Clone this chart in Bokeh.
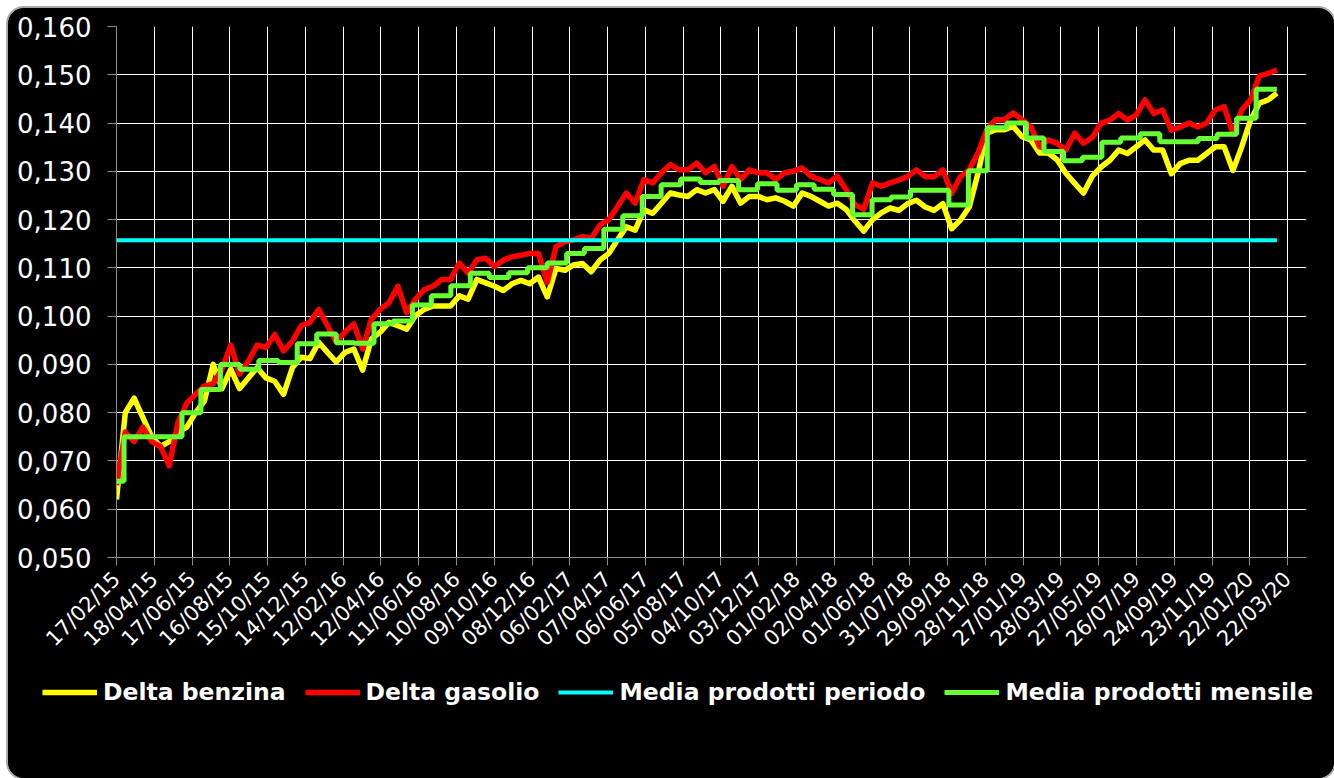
import pandas as pd
from math import pi
from bokeh.plotting import figure
from bokeh.layouts import column
from bokeh.models import (FixedTicker, DatetimeTickFormatter, CustomJSTickFormatter,
                          Legend, LegendItem, Range1d)
from bokeh.embed import file_html
from bokeh.resources import INLINE

# ---------------- data ----------------
start_date = "2015-02-17"
end_date = "2020-03-05"

benzina = [
    0.0620, 0.0800, 0.0830, 0.0790, 0.0750, 0.0730, 0.0740, 0.0760, 0.0770, 0.0800,
    0.0824, 0.0900, 0.0850, 0.0890, 0.0850, 0.0872, 0.0893, 0.0872, 0.0865, 0.0838,
    0.0893, 0.0915, 0.0912, 0.0946, 0.0925, 0.0905, 0.0925, 0.0932, 0.0888, 0.0953,
    0.0967, 0.0987, 0.0980, 0.0973, 0.1001, 0.1014, 0.1021, 0.1021, 0.1021, 0.1042,
    0.1035, 0.1076, 0.1069, 0.1062, 0.1053, 0.1067, 0.1074, 0.1067, 0.1081, 0.1040,
    0.1099, 0.1095, 0.1106, 0.1109, 0.1092, 0.1116, 0.1130, 0.1158, 0.1185, 0.1178,
    0.1220, 0.1213, 0.1234, 0.1255, 0.1251, 0.1248, 0.1262, 0.1255, 0.1262, 0.1238,
    0.1269, 0.1234, 0.1248, 0.1248, 0.1241, 0.1245, 0.1238, 0.1228, 0.1255, 0.1248,
    0.1238, 0.1228, 0.1234, 0.1221, 0.1197, 0.1176, 0.1200, 0.1214, 0.1224, 0.1219,
    0.1233, 0.1240, 0.1226, 0.1219, 0.1233, 0.1181, 0.1199, 0.1226, 0.1296, 0.1379,
    0.1386, 0.1386, 0.1393, 0.1372, 0.1365, 0.1338, 0.1338, 0.1324, 0.1296, 0.1275,
    0.1255, 0.1290, 0.1309, 0.1323, 0.1344, 0.1337, 0.1351, 0.1365, 0.1344, 0.1344,
    0.1295, 0.1316, 0.1323, 0.1323, 0.1337, 0.1351, 0.1351, 0.1302, 0.1351, 0.1406,
    0.1441, 0.1448, 0.1462,
]

gasolio = [
    0.0650, 0.0760, 0.0740, 0.0770, 0.0740, 0.0730, 0.0690, 0.0780, 0.0820, 0.0838,
    0.0855, 0.0860, 0.0890, 0.0940, 0.0880, 0.0907, 0.0940, 0.0935, 0.0962, 0.0928,
    0.0948, 0.0980, 0.0987, 0.1014, 0.0980, 0.0946, 0.0967, 0.0984, 0.0932, 0.0994,
    0.1014, 0.1028, 0.1062, 0.1007, 0.1035, 0.1055, 0.1062, 0.1076, 0.1076, 0.1110,
    0.1089, 0.1117, 0.1120, 0.1103, 0.1116, 0.1123, 0.1126, 0.1130, 0.1130, 0.1070,
    0.1144, 0.1154, 0.1158, 0.1165, 0.1161, 0.1189, 0.1200, 0.1227, 0.1255, 0.1234,
    0.1283, 0.1276, 0.1297, 0.1314, 0.1303, 0.1303, 0.1317, 0.1297, 0.1310, 0.1269,
    0.1310, 0.1283, 0.1303, 0.1297, 0.1297, 0.1283, 0.1297, 0.1300, 0.1307, 0.1290,
    0.1283, 0.1276, 0.1290, 0.1262, 0.1231, 0.1221, 0.1276, 0.1269, 0.1276, 0.1282,
    0.1289, 0.1303, 0.1289, 0.1289, 0.1303, 0.1254, 0.1289, 0.1303, 0.1338, 0.1386,
    0.1407, 0.1407, 0.1421, 0.1407, 0.1393, 0.1351, 0.1365, 0.1358, 0.1344, 0.1379,
    0.1358, 0.1370, 0.1400, 0.1406, 0.1420, 0.1406, 0.1417, 0.1448, 0.1420, 0.1427,
    0.1385, 0.1392, 0.1400, 0.1392, 0.1400, 0.1427, 0.1434, 0.1378, 0.1427, 0.1448,
    0.1497, 0.1503, 0.1510,
]

media_periodo = 0.1157

# monthly averages, Feb 2015 ... Mar 2020
media_mensile = [
    0.0658, 0.0750, 0.0750, 0.0750, 0.0800, 0.0848, 0.0900, 0.0890, 0.0908, 0.0904, 0.0943,
    0.0963, 0.0945, 0.0944, 0.0984, 0.0990, 0.1023, 0.1042, 0.1063, 0.1089, 0.1080, 0.1090, 0.1100,
    0.1110, 0.1130, 0.1140, 0.1180, 0.1208, 0.1248, 0.1272, 0.1284, 0.1277, 0.1281, 0.1262, 0.1274,
    0.1261, 0.1272, 0.1263, 0.1252, 0.1210, 0.1241, 0.1247, 0.1261, 0.1261, 0.1230, 0.1301, 0.1390,
    0.1400, 0.1369, 0.1341, 0.1322, 0.1329, 0.1360, 0.1369, 0.1378, 0.1361, 0.1361, 0.1368, 0.1377,
    0.1410, 0.1470, 0.1470,
]

legend_labels = ["Delta benzina", "Delta gasolio", "Media prodotti periodo", "Media prodotti mensile"]
colors = ["#FFFF00", "#FF0000", "#00FFFF", "#66FF33"]
y_ticks = [0.05, 0.06, 0.07, 0.08, 0.09, 0.10, 0.11, 0.12, 0.13, 0.14, 0.15, 0.16]
x_tick_step_days = 60
x_tick_count = 32
x_end = "2020-04-21"

# ---------------- derived positions ----------------
dates = pd.date_range(start_date, end_date, periods=len(gasolio))
month_starts = [pd.Timestamp(start_date)] + list(pd.date_range("2015-03-01", "2020-03-01", freq="MS"))
step_x = month_starts + [pd.Timestamp(end_date)]
step_y = media_mensile + [media_mensile[-1]]
x_ticks = [(pd.Timestamp(start_date) + pd.Timedelta(days=x_tick_step_days * k)).value // 10**6
           for k in range(x_tick_count)]

W = 1326
H_MAIN = 660
H_LEG = 110

p = figure(width=W, height=H_MAIN, x_axis_type="datetime",
           output_backend="svg", toolbar_location=None,
           x_range=Range1d(pd.Timestamp(start_date), pd.Timestamp(x_end)),
           y_range=Range1d(0.05, 0.16),
           background_fill_color="black", border_fill_color="black",
           min_border_left=108, min_border_right=28, min_border_top=18,
           min_border_bottom=H_MAIN - 549)
p.outline_line_color = None

widths = [5.5, 5.5, 4, 5]
p.line(dates, benzina, line_color=colors[0], line_width=widths[0], line_join="round")
p.line(dates, gasolio, line_color=colors[1], line_width=widths[1], line_join="round")
p.line([pd.Timestamp(start_date), pd.Timestamp(end_date)], [media_periodo, media_periodo],
       line_color=colors[2], line_width=widths[2])
p.step(step_x, step_y, mode="after", line_color=colors[3], line_width=widths[3])

xt = FixedTicker(ticks=x_ticks)
p.xaxis.ticker = xt
p.xgrid.ticker = xt
fmt = "%d/%m/%y"
p.xaxis.formatter = DatetimeTickFormatter(microseconds=fmt, milliseconds=fmt, seconds=fmt, minsec=fmt,
                                          minutes=fmt, hourmin=fmt, hours=fmt, days=fmt,
                                          months=fmt, years=fmt)
p.xaxis.major_label_orientation = pi / 4
yt = FixedTicker(ticks=y_ticks)
p.yaxis.ticker = yt
p.ygrid.ticker = yt
p.yaxis.formatter = CustomJSTickFormatter(code="return tick.toFixed(3).replace('.', ',');")

for ax in (p.xaxis, p.yaxis):
    ax.axis_line_color = "#8c8c8c"
    ax.major_tick_line_color = "#8c8c8c"
    ax.minor_tick_line_color = None
    ax.major_tick_in = 0
    ax.major_label_text_color = "white"
    ax.major_label_text_font = "DejaVu Sans"
p.yaxis.major_tick_out = 9
p.xaxis.major_tick_out = 8
p.yaxis.major_label_text_font_size = "26px"
p.xaxis.major_label_text_font_size = "21px"
p.yaxis.major_label_standoff = 16
p.xaxis.major_label_standoff = 10

for g in (p.xgrid, p.ygrid):
    g.grid_line_color = "white"
    g.grid_line_width = 1
    g.grid_line_alpha = 1

# ---------------- legend strip ----------------
pl = figure(width=W, height=H_LEG, output_backend="svg", toolbar_location=None,
            x_axis_location=None, y_axis_location=None,
            x_range=Range1d(0, 1), y_range=Range1d(0, 1),
            background_fill_color="black", border_fill_color="black",
            min_border_left=0, min_border_right=0, min_border_top=0, min_border_bottom=0)
pl.outline_line_color = None
pl.xgrid.visible = False
pl.ygrid.visible = False
for fig in (p, pl):
    if "frame_align" in fig.properties():
        fig.frame_align = False

items = []
for lab, c, w in zip(legend_labels, colors, widths):
    r = pl.line([-10, -9], [-10, -9], line_color=c, line_width=w)
    items.append(LegendItem(label=lab, renderers=[r]))
legend = Legend(items=items, orientation="horizontal", location=(34, 72),
                label_text_color="white", label_text_font="DejaVu Sans",
                label_text_font_style="bold", label_text_font_size="23.5px",
                glyph_width=55, glyph_height=20, spacing=19, label_standoff=6,
                padding=0, margin=0, background_fill_alpha=0, border_line_color=None)
pl.add_layout(legend)

layout = column(p, pl, spacing=0)
layout.styles = {"border-radius": "16px", "overflow": "hidden", "background-color": "black",
                 "box-shadow": "0 0 0 2px #a8a8a8", "margin-left": "8px", "margin-top": "8px"}

open("out.html", "w").write(file_html(layout, INLINE))
